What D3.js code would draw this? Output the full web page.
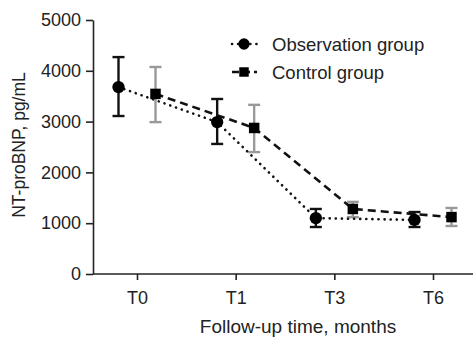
<!DOCTYPE html>
<meta charset="utf-8">
<style>
body { margin: 0; background: #fff; }
text { font-family: "Liberation Sans", Arial, sans-serif; fill: #222; }
</style>
<body>
<svg width="473" height="338"></svg>
<script src="https://cdnjs.cloudflare.com/ajax/libs/d3/7.8.5/d3.min.js"></script>
<script>
var times = ['T0', 'T1', 'T3', 'T6']
var yTicks = [0, 1000, 2000, 3000, 4000, 5000]

var obsMean = [3680, 2990, 1100, 1065]
var obsLow  = [3110, 2560, 925, 925]
var obsHigh = [4270, 3445, 1280, 1220]

var ctlMean = [3545, 2875, 1280, 1120]
var ctlLow  = [2990, 2400, 1120, 945]
var ctlHigh = [4075, 3330, 1420, 1300]

var svg = d3.select('svg')
var mLeft = 93, mTop = 20, mBottom = 274, mRight = 473

var x = d3.scalePoint().domain(times).range([137, 433])
var y = d3.scaleLinear().domain([0, 5000]).range([mBottom, mTop])

// axes
var yAxis = svg.append('g').attr('transform', 'translate(' + mLeft + ',0)')
  .call(d3.axisLeft(y).tickValues(yTicks).tickFormat(d3.format('d')).tickSize(7).tickPadding(5).tickSizeOuter(0))
var xAxis = svg.append('g').attr('transform', 'translate(0,' + mBottom + ')')
  .call(d3.axisBottom(x).tickSize(6).tickPadding(11).tickSizeOuter(0))
xAxis.select('.domain').attr('d', 'M' + mLeft + ',0H' + mRight)
;[xAxis, yAxis].forEach(function(a) {
  a.selectAll('path, line').attr('stroke', '#222').attr('stroke-width', 1.6)
  a.selectAll('text').style('font-size', '18px').attr('fill', '#222')
})

svg.append('text').attr('x', 298).attr('y', 333).attr('text-anchor', 'middle')
  .style('font-size', '19px').text('Follow-up time, months')
svg.append('text').attr('transform', 'translate(25,145) rotate(-90)').attr('text-anchor', 'middle')
  .style('font-size', '17.5px').text('NT-proBNP, pg/mL')

var off = 18.5
function drawSeries(mean, low, high, dx, dash, barColor, shape) {
  var pts = times.map(function(t, i) {
    return { x: x(t) + dx, m: mean[i], lo: low[i], hi: high[i] }
  })
  svg.append('path').datum(pts)
    .attr('d', d3.line().x(function(d) { return d.x }).y(function(d) { return y(d.m) }))
    .attr('fill', 'none').attr('stroke', '#111').attr('stroke-width', 2.6)
    .attr('stroke-dasharray', dash).attr('stroke-linecap', dash === '0.1 6' ? 'round' : 'butt')
  var g = svg.append('g').attr('stroke', barColor).attr('stroke-width', 2.4).attr('fill', 'none')
  pts.forEach(function(d) {
    g.append('line').attr('x1', d.x).attr('x2', d.x).attr('y1', y(d.lo)).attr('y2', y(d.hi))
    g.append('line').attr('x1', d.x - 6).attr('x2', d.x + 6).attr('y1', y(d.lo)).attr('y2', y(d.lo))
    g.append('line').attr('x1', d.x - 6).attr('x2', d.x + 6).attr('y1', y(d.hi)).attr('y2', y(d.hi))
  })
  svg.selectAll(null).data(pts).enter().append('path')
    .attr('transform', function(d) { return 'translate(' + d.x + ',' + y(d.m) + ')' })
    .attr('d', d3.symbol().type(shape).size(shape === d3.symbolCircle ? 120 : 110))
    .attr('fill', '#000')
}

drawSeries(ctlMean, ctlLow, ctlHigh, off, '8 5', '#999', d3.symbolSquare)
drawSeries(obsMean, obsLow, obsHigh, -off, '0.1 6', '#111', d3.symbolCircle)

// legend
var legend = [
  { name: 'Observation group', dash: '0.1 6', shape: d3.symbolCircle, cap: 'round' },
  { name: 'Control group', dash: '7 4', shape: d3.symbolSquare, cap: 'butt' }
]
legend.forEach(function(l, i) {
  var ly = 44 + i * 28
  svg.append('line').attr('x1', 232).attr('x2', 257).attr('y1', ly).attr('y2', ly)
    .attr('stroke', '#111').attr('stroke-width', 2.6).attr('stroke-dasharray', l.dash)
    .attr('stroke-linecap', l.cap)
  svg.append('path').attr('transform', 'translate(244,' + ly + ')')
    .attr('d', d3.symbol().type(l.shape).size(l.shape === d3.symbolCircle ? 100 : 90)).attr('fill', '#000')
  svg.append('text').attr('x', 272).attr('y', ly + 6.5).style('font-size', '18.5px').text(l.name)
})
</script>
</body>
